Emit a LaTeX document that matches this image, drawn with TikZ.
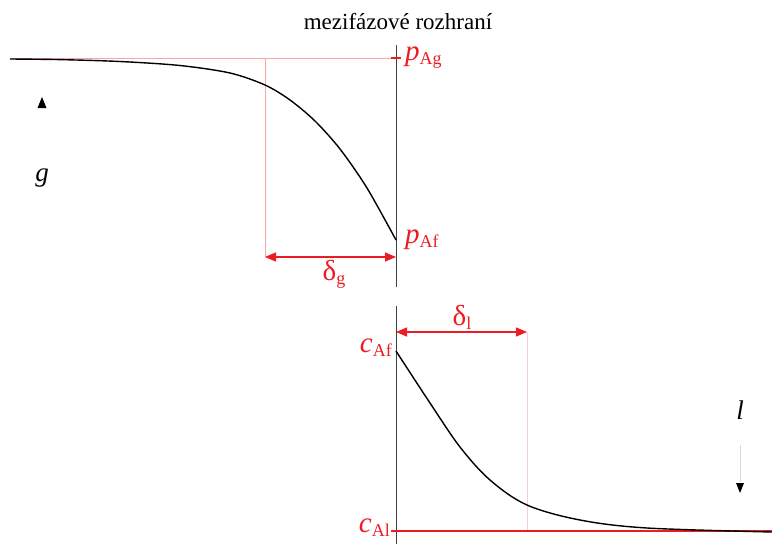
\documentclass[tikz,border=0pt]{standalone}
\usepackage{fontspec}
\setmainfont{Liberation Serif}
\usetikzlibrary{arrows.meta}
\definecolor{dred}{RGB}{237,28,36}
\definecolor{pinkl}{RGB}{250,165,165}
\definecolor{pinkll}{RGB}{252,205,205}
\newcommand{\mysub}[1]{\raisebox{-0.14em}{\fontsize{18}{18}\selectfont #1}}
\tikzset{
  lbl/.style={inner sep=0pt, text=dred, font=\fontsize{29}{29}\selectfont},
  blk/.style={inner sep=0pt, font=\fontsize{27}{27}\selectfont\itshape},
  curve/.style={line width=1.4pt, black},
  iface/.style={line width=0.9pt, black!75},
  guide/.style={line width=0.8pt, pinkl},
  dimarrow/.style={line width=1.3pt, dred, {Triangle[length=11pt,width=9pt]}-{Triangle[length=11pt,width=9pt]}},
  tick/.style={line width=1.6pt, dred}
}
\begin{document}
\begin{tikzpicture}[x=1pt,y=-1pt]
\useasboundingbox (0,0) rectangle (772,544);
% title
\node[inner sep=0pt, font=\fontsize{23}{23}\selectfont] (title) at (398,22) {mezifázové rozhraní};
% interface line
\coordinate (it1) at (396,45); \coordinate (ib1) at (396,287);
\coordinate (it2) at (396,306); \coordinate (ib2) at (396,544);
\draw[iface] (it1) -- (ib1);
\draw[iface] (it2) -- (ib2);
% gas side
\coordinate (gl) at (10,58); \coordinate (gr) at (396,58);
\draw[guide] (gl) -- (gr);
\draw[tick] (391,58) -- (401,58);
\coordinate (dgt) at (265,58); \coordinate (dgb) at (265,257);
\draw[guide] (dgt) -- (dgb);
\coordinate (dgr) at (396,257);
\draw[dimarrow] (dgb) -- (dgr);
\node[lbl] (dg) at (334,274) {δ\mysub{g}};
\draw[curve] plot[smooth, tension=0.5] coordinates {(10,59) (60,59.6) (120,61.5) (180,65.5) (230,73) (265,85) (290,100) (315,121) (340,149) (367,188) (396,240)};
\node[lbl, anchor=west] (pAg) at (405,58) {\textit{p}\mysub{Ag}};
\node[lbl, anchor=west] (pAf) at (405,240) {\textit{p}\mysub{Af}};
\node[blk] (g) at (42,178) {g};
\node[inner sep=0pt] (garr) at (42,103) {};
\fill (garr.center) ++(0,-6) -- ++(4.5,11) -- ++(-9,0) -- cycle;
% liquid side
\coordinate (dll) at (396,332); \coordinate (dlr) at (527,332);
\draw[dimarrow] (dll) -- (dlr);
\node[lbl] (dl) at (462,317) {δ\mysub{l}};
\coordinate (dlb) at (527,531);
\draw[line width=0.7pt, pinkll] (dlr) -- (dlb);
\coordinate (cl) at (391,531); \coordinate (cr) at (772,531);
\draw[line width=1.1pt, dred] (cl) -- (cr);
\draw[curve] plot[smooth, tension=0.55] coordinates {(396,351) (430,403) (460,447) (490,480) (527,505) (580,520) (647,528) (772,532)};
\node[lbl, anchor=east] (cAf) at (392,348) {\textit{c}\mysub{Af}};
\node[lbl, anchor=east] (cAl) at (390,528) {\textit{c}\mysub{Al}};
\node[blk] (l) at (740,410) {l};
\coordinate (lt) at (740,445); \coordinate (lb) at (740,482);
\draw[line width=0.6pt, black!15] (lt) -- (lb);
\fill (740,493) -- ++(-4,-10) -- ++(8,0) -- cycle;
\end{tikzpicture}
\end{document}
